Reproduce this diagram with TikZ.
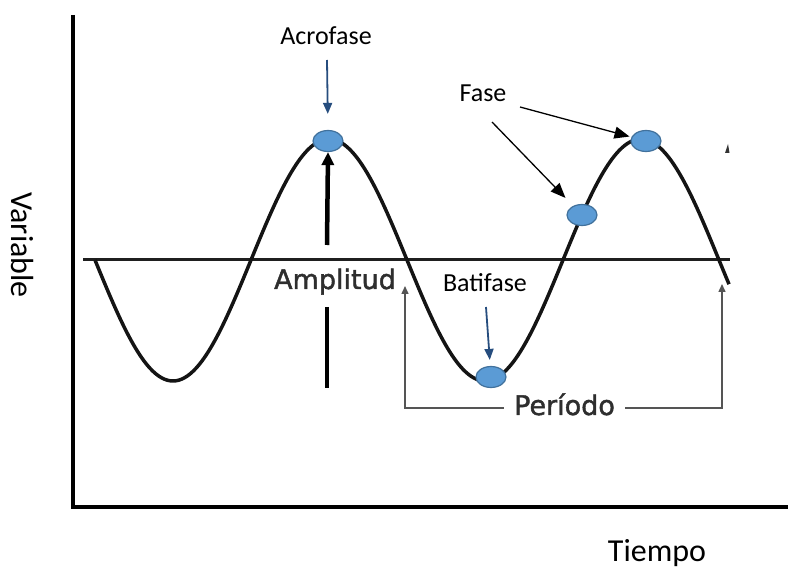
\documentclass[tikz,border=0pt]{standalone}
\usepackage{fontspec}
\newfontfamily\cfont{Carlito}
\newfontfamily\dfont{DejaVu Sans}[FakeBold=1.6]
\usetikzlibrary{arrows.meta,shapes.geometric}
\definecolor{blobfill}{HTML}{5B9BD5}
\definecolor{blobedge}{HTML}{41719C}
\definecolor{arrowblue}{HTML}{264D7E}
\definecolor{pergray}{HTML}{555555}
\definecolor{txtgray}{HTML}{2E2E2E}
\tikzset{
  axisline/.style={line width=4.5pt, black},
  midline/.style={line width=3pt, black!88},
  wave/.style={line width=3.5pt, black!92},
  blob/.style={ellipse, draw=blobedge, fill=blobfill, line width=1.2pt, minimum width=30pt, minimum height=21pt, inner sep=0pt},
  bluearrow/.style={draw=arrowblue, line width=1.8pt, -{Triangle[length=11pt,width=9pt]}, arrowblue},
  fasearrow/.style={line width=1.3pt, -{Triangle[length=15pt,width=12pt]}},
  amparrow/.style={line width=4.5pt, -{Triangle[length=13pt,width=12pt]}},
  ampbar/.style={line width=4.5pt},
  perline/.style={draw=pergray, line width=1.5pt, -{Triangle[length=8pt,width=7pt]}, pergray},
  lbl/.style={font=\cfont\fontsize{26}{31}\selectfont, anchor=base, inner sep=0pt},
  biglbl/.style={font=\cfont\fontsize{32}{38}\selectfont, inner sep=0pt},
  grylbl/.style={font=\dfont\fontsize{27}{32}\selectfont, text=txtgray, anchor=base, inner sep=0pt}
}
\begin{document}
\begin{tikzpicture}[x=1pt,y=-1pt]
\useasboundingbox (0,0) rectangle (788,569);
% axes
\coordinate (ytop) at (73,15);
\coordinate (O) at (73,507);
\coordinate (xend) at (788,507);
\draw[axisline] (ytop) -- (O) -- (xend);
% midline
\coordinate (m0) at (83,260);
\coordinate (m1) at (730,260);
\draw[midline] (m0) -- (m1);
% wave
\draw[wave, line join=round] plot[domain=95:729, samples=220, smooth] (\x, {260+121*sin(1.153846*(\x-95))});
% small artefact
\fill[black!80] (725,153) -- (728,144) -- (729.5,153) -- cycle;
% ellipses
\node[blob] (acro) at (328,141) {};
\node[blob] (fase2) at (646,141) {};
\node[blob] (fase1) at (582,215) {};
\node[blob] (bati) at (491,377) {};
% labels
\node[lbl] (acrotxt) at (326,45) {Acrofase};
\node[lbl] (fasetxt) at (483,102) {Fase};
\node[lbl] (batitxt) at (485,292) {Batifase};
\node[grylbl] (amp) at (335,289) {Amplitud};
\node[grylbl, inner xsep=10pt] (per) at (564.5,415) {Período};
\node[biglbl, rotate=-90] (var) at (22,245) {Variable};
\node[biglbl, anchor=base] (tie) at (657,561) {Tiempo};
% blue arrows
\coordinate (a1) at (327,60);
\draw[bluearrow, shorten >=16pt] (a1) -- (acro.north);
\coordinate (b1) at (486,307);
\draw[bluearrow, shorten >=6pt] (b1) -- (bati);
% fase arrows
\coordinate (f2) at (520,107);
\draw[fasearrow, shorten >=2pt] (f2) -- (fase2);
\coordinate (f1) at (492,122);
\draw[fasearrow, shorten >=11pt] (f1) -- (fase1);
% amplitude
\coordinate (ampA) at (327,245);
\draw[amparrow] (ampA) -- (acro.south);
\coordinate (ampB1) at (327,307);
\coordinate (ampB2) at (327,388);
\draw[ampbar] (ampB1) -- (ampB2);
% period
\coordinate (pL) at (405,408);
\coordinate (pLtop) at (405,286);
\coordinate (pR) at (722,408);
\coordinate (pRtop) at (722,284);
\draw[perline] (per.west |- pL) -- (pL) -- (pLtop);
\draw[perline] (per.east |- pR) -- (pR) -- (pRtop);
\end{tikzpicture}
\end{document}
